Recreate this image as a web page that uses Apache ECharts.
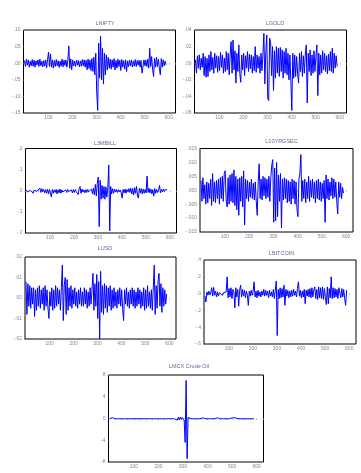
<!DOCTYPE html>
<html><head><meta charset="utf-8">
<script src="https://cdn.jsdelivr.net/npm/echarts@6/dist/echarts.min.js"></script>
<style>html,body{margin:0;padding:0;background:#fff}#c{width:361px;height:473px}</style>
</head><body><div id="c"></div>
<script>
// observations sampled every 4th obs, starting at obs 1
const OBS_STEP = 4;
const xTickLabels = [100, 200, 300, 400, 500, 600];

const titles = ["LNIFTY", "LGOLD", "L3MBILL", "L10YRGSEC", "LUSD", "LBITCOIN", "LMCX Crude Oil"];

const lnifty = [
0.008,-0.010,0.012,-0.006,0.010,-0.012,0.006,-0.008,0.011,-0.009,
0.009,-0.012,0.007,-0.005,0.010,-0.010,0.012,-0.008,0.006,-0.011,
0.008,-0.009,0.010,-0.014,0.012,0.033,-0.010,0.028,-0.012,0.010,
-0.015,0.008,-0.010,0.011,-0.008,0.007,-0.013,0.006,-0.009,0.012,
-0.011,0.009,-0.007,0.010,-0.012,0.008,0.052,-0.015,0.013,-0.020,
0.010,-0.008,0.006,-0.010,0.009,-0.006,0.008,-0.011,0.007,-0.009,
0.011,-0.008,0.010,-0.012,0.009,-0.020,0.012,-0.016,0.010,-0.022,
0.014,-0.025,0.018,-0.035,0.030,-0.088,-0.142,0.060,-0.045,0.081,
-0.050,0.045,-0.063,0.030,-0.035,0.025,-0.020,0.018,-0.015,0.012,
-0.018,0.010,-0.012,0.014,-0.020,0.008,-0.015,0.012,-0.010,0.009,
-0.022,0.011,-0.012,0.008,-0.018,0.010,-0.025,0.007,-0.010,0.009,
-0.008,0.010,-0.012,0.007,-0.009,0.011,-0.010,0.008,-0.006,0.009,
-0.012,0.008,-0.030,-0.028,0.010,-0.008,0.009,-0.010,0.012,-0.015,
0.045,-0.010,0.020,-0.018,-0.040,0.015,-0.012,0.018,-0.010,0.012,
-0.015,-0.035,0.014,-0.012,0.010,-0.008,0.006,-0.005];

const lgold = [
0.004,-0.012,0.009,-0.006,0.010,-0.008,0.006,-0.005,0.012,-0.015,
0.008,-0.017,0.006,-0.016,0.010,-0.010,0.014,-0.008,0.007,-0.012,
0.012,-0.006,0.009,-0.011,0.008,-0.009,0.013,-0.005,0.010,-0.012,
0.006,-0.010,0.014,-0.008,0.012,-0.014,0.010,0.026,-0.012,0.028,
-0.008,0.015,-0.024,0.012,-0.010,0.022,-0.012,-0.023,0.010,-0.008,
0.012,-0.015,0.009,-0.006,0.014,-0.010,0.011,-0.007,0.010,-0.012,
0.008,-0.009,0.020,-0.011,0.010,-0.006,0.008,-0.012,0.012,-0.009,
0.010,0.036,-0.025,0.014,0.034,-0.042,-0.045,0.030,0.025,-0.015,
0.020,-0.033,0.015,-0.018,0.020,-0.012,0.018,-0.016,0.019,-0.010,
0.016,-0.018,0.014,-0.012,0.018,-0.014,0.012,-0.020,0.010,-0.022,
-0.057,0.012,-0.018,0.010,-0.016,0.008,-0.012,-0.024,0.012,-0.010,
0.014,-0.016,0.009,-0.012,0.010,0.022,-0.048,0.012,-0.010,0.016,
-0.015,0.010,-0.012,0.015,-0.010,0.008,0.022,-0.039,0.012,-0.014,
0.010,-0.012,0.015,-0.008,0.012,-0.010,0.009,-0.013,0.011,-0.009,
0.014,-0.010,0.018,-0.012,0.012,-0.006,0.009,-0.004];

const l3mbill = [
0.004,-0.006,0.003,-0.005,0.002,-0.004,0.006,-0.012,0.003,-0.005,
0.004,-0.003,0.005,-0.006,0.012,-0.008,0.010,-0.005,0.006,-0.010,
0.005,-0.012,0.008,-0.015,0.006,-0.010,-0.030,0.006,-0.012,0.004,
-0.008,0.006,-0.015,0.005,-0.010,0.008,-0.012,0.004,-0.006,0.003,
-0.005,0.004,-0.008,0.006,-0.004,0.003,-0.006,0.004,-0.010,0.005,
-0.008,0.006,-0.004,0.005,-0.018,0.010,0.020,-0.012,0.008,-0.006,
0.004,-0.010,0.005,-0.008,0.006,-0.005,0.004,-0.012,0.008,-0.015,
0.012,-0.020,0.030,-0.025,0.035,0.065,-0.170,0.050,-0.040,0.025,
-0.035,0.020,-0.040,0.018,-0.030,0.015,0.122,-0.190,0.020,-0.015,
0.010,-0.012,0.008,-0.006,0.006,-0.008,0.005,-0.006,0.004,-0.010,
-0.035,0.006,-0.010,0.008,-0.012,0.006,-0.005,0.010,-0.008,0.012,
-0.015,0.010,-0.020,0.015,-0.012,0.020,-0.025,-0.035,0.012,-0.010,
0.010,-0.015,0.008,-0.012,0.006,-0.010,0.070,-0.008,0.012,-0.010,
0.008,-0.015,0.005,-0.025,0.010,-0.012,0.006,-0.008,0.005,0.025,
-0.010,0.006,-0.005,0.008,-0.004,0.006,0.003,0.004];

const l10yrgsec = [
0.0035,-0.004,0.0045,-0.003,0.002,-0.005,0.003,-0.0045,0.0025,-0.003,
0.004,-0.0055,0.006,-0.004,0.003,-0.0045,0.0035,-0.003,0.004,-0.005,
0.0045,-0.003,0.005,-0.004,0.006,0.007,-0.0035,-0.006,0.0045,-0.005,
0.0055,-0.004,0.006,-0.0045,0.0073,-0.0055,0.005,-0.007,0.004,-0.009,
0.0045,-0.004,0.005,-0.006,0.007,-0.0125,0.004,-0.003,0.0035,-0.004,
0.003,-0.0025,0.004,-0.003,0.0025,-0.0035,0.003,-0.004,-0.009,0.003,
0.0095,-0.003,0.004,-0.0035,0.005,-0.002,0.0045,-0.003,0.004,-0.0025,
0.005,-0.004,0.0045,0.009,0.011,-0.0115,0.008,-0.011,0.010,-0.0095,
0.0055,-0.004,0.006,-0.0135,0.004,-0.0035,0.0045,-0.003,0.004,-0.0045,
0.0035,-0.004,0.003,-0.005,0.004,-0.003,0.0035,-0.005,0.003,-0.007,
-0.0095,0.004,0.006,0.0128,-0.004,0.0035,-0.003,0.004,-0.0045,0.003,
-0.003,0.005,-0.004,0.0035,-0.0025,0.004,-0.003,0.003,-0.0045,0.0035,
-0.003,0.004,-0.0035,0.003,-0.004,0.0025,-0.003,0.0035,-0.0115,0.0055,
-0.003,0.004,-0.0035,0.003,-0.002,0.0045,-0.003,0.004,-0.0025,0.003,
-0.004,-0.0085,0.003,-0.0025,0.0025,-0.003,0.001,-0.001];

const lusd = [
0.008,-0.008,0.007,-0.004,0.006,-0.005,0.005,-0.003,0.005,-0.009,
0.004,-0.006,0.005,-0.004,0.006,-0.005,0.004,-0.003,0.005,-0.006,
0.006,-0.004,0.004,-0.005,-0.010,0.003,-0.004,0.005,-0.006,0.004,
-0.005,0.006,-0.004,0.005,-0.003,0.004,-0.006,0.005,0.016,-0.011,
0.006,0.010,-0.008,0.009,-0.006,0.005,-0.004,0.006,-0.005,0.004,
-0.003,0.005,-0.004,0.003,-0.005,0.004,-0.003,0.005,-0.004,0.003,
-0.004,0.005,-0.003,0.004,-0.005,0.003,-0.004,0.005,-0.003,0.004,
0.012,-0.006,0.007,-0.004,0.0115,-0.010,0.008,-0.020,0.013,-0.007,
0.006,-0.008,0.007,-0.005,0.006,-0.007,0.005,-0.004,0.006,-0.006,
0.004,-0.005,0.005,-0.004,0.003,-0.005,0.004,-0.003,0.005,-0.004,
0.004,-0.005,-0.011,0.004,-0.003,0.005,-0.004,0.003,-0.005,0.004,
-0.003,0.005,-0.004,0.004,-0.005,0.003,-0.004,0.005,-0.003,0.004,
-0.005,0.003,-0.004,0.005,-0.006,0.004,-0.005,0.006,-0.004,0.003,
-0.005,0.004,-0.006,0.005,0.016,-0.008,0.006,-0.005,0.008,0.012,
-0.004,0.007,-0.007,0.005,-0.004,0.004,-0.003,0.002];

const lbitcoin = [
-0.030,-0.100,0.020,-0.020,0.030,-0.015,0.010,0.070,-0.030,0.075,
-0.020,0.030,-0.040,0.020,-0.030,0.010,-0.010,0.015,-0.020,0.010,
-0.005,0.010,0.020,0.200,-0.050,0.060,-0.040,0.070,-0.060,0.050,
0.020,-0.170,0.070,-0.040,0.050,-0.150,0.040,0.100,-0.040,0.050,
-0.030,0.040,-0.050,0.030,-0.020,-0.140,0.030,-0.030,0.040,-0.020,
0.030,0.140,-0.040,0.030,-0.050,0.040,-0.030,0.020,-0.040,0.030,
-0.020,0.050,-0.030,0.040,-0.020,0.030,-0.050,0.040,-0.030,0.020,
-0.040,0.050,-0.060,0.040,0.150,-0.500,0.050,-0.060,0.070,-0.050,
0.060,-0.040,0.100,-0.140,0.050,-0.030,0.040,-0.050,0.030,-0.040,
0.040,-0.030,0.050,-0.020,0.030,-0.040,0.060,0.140,-0.030,0.040,
-0.050,0.030,-0.040,0.050,-0.120,0.040,-0.030,0.050,-0.040,0.060,
-0.050,0.070,-0.040,0.050,0.080,-0.060,0.050,-0.070,0.080,-0.050,
0.070,-0.060,0.080,-0.070,0.060,-0.050,-0.130,0.080,-0.120,0.060,
-0.050,0.200,-0.060,0.070,-0.050,0.060,-0.040,0.050,-0.060,0.070,
0.070,-0.050,0.060,-0.040,0.050,-0.060,-0.140,0.040];

const lmcxCrude = [
-0.05,-0.04,-0.06,0.15,-0.05,-0.04,-0.05,-0.06,-0.04,-0.05,
0.15,-0.05,-0.06,-0.04,-0.05,-0.05,-0.06,-0.04,-0.05,-0.05,
0.12,-0.05,-0.04,-0.06,-0.05,0.14,-0.05,-0.04,0.12,-0.05,
-0.06,-0.05,0.13,-0.04,-0.05,-0.06,-0.05,0.15,-0.05,-0.04,
-0.05,-0.06,-0.05,-0.04,-0.06,-0.05,-0.05,0.14,-0.05,-0.06,
-0.05,-0.04,-0.05,-0.06,-0.05,-0.05,-0.04,-0.06,0.12,-0.05,
-0.05,-0.06,-0.04,-0.05,-0.05,-0.06,-0.05,-0.04,-0.05,-0.30,
0.20,-0.25,0.25,-0.20,0.20,0.25,-0.30,-4.40,7.00,-7.40,
0.20,-0.10,-0.05,-0.05,0.12,-0.05,-0.06,-0.04,0.14,-0.05,
-0.05,0.13,-0.06,-0.05,-0.04,0.12,-0.05,-0.05,-0.06,-0.05,
-0.04,-0.05,-0.06,-0.05,-0.05,-0.04,-0.06,-0.05,-0.05,-0.04,
0.12,-0.05,-0.06,-0.05,0.13,-0.04,-0.05,0.14,-0.06,-0.05,
0.12,-0.05,-0.05,-0.04,-0.06,0.13,-0.05,-0.05,0.12,-0.05,
-0.06,-0.04,-0.05,-0.05,-0.06,-0.05,-0.04,-0.05,-0.06,-0.05,
-0.05,0.14,-0.05,-0.06,0.12,-0.05,-0.05,-0.04];

// y tick labels per panel
const yTicksLnifty = [0.10, 0.05, 0.00, -0.05, -0.10, -0.15];
const yTicksLgold = [0.04, 0.02, 0.00, -0.02, -0.04, -0.06];
const yTicks3mbill = [0.2, 0.1, 0.0, -0.1, -0.2];
const yTicks10yr = [0.015, 0.010, 0.005, 0.000, -0.005, -0.010, -0.015];
const yTicksLusd = [0.02, 0.01, 0.00, -0.01, -0.02];
const yTicksBitcoin = [0.4, 0.2, 0.0, -0.2, -0.4, -0.6];
const yTicksCrude = [8, 4, 0, -4, -8];

const seriesList = [lnifty, lgold, l3mbill, l10yrgsec, lusd, lbitcoin, lmcxCrude];
const yTickList = [yTicksLnifty, yTicksLgold, yTicks3mbill, yTicks10yr, yTicksLusd, yTicksBitcoin, yTicksCrude];
const yDecimals = [2, 2, 1, 3, 2, 1, 0];

// layout (pixels)
const boxes = [
  {l: 23.5, t: 30, w: 152, h: 83, tx: 100, ty: 19},
  {l: 194.5, t: 30, w: 152, h: 83, tx: 270, ty: 19},
  {l: 25.5, t: 148.5, w: 151, h: 84.5, tx: 100, ty: 139},
  {l: 200, t: 148.5, w: 153, h: 83.5, tx: 276.5, ty: 136.5},
  {l: 25, t: 257, w: 151, h: 82, tx: 100, ty: 243.5},
  {l: 204, t: 260, w: 152, h: 84, tx: 276.5, ty: 249},
  {l: 108.5, t: 375, w: 155, h: 87, tx: 184, ty: 362}
];

const labelColor = '#80879a';
const titleColor = '#5d6c8e';
const FONT = 'Liberation Sans, Arial, sans-serif';

function fmt(v, d) {
  let s = v.toFixed(d);
  if (d > 0) s = s.replace(/^(-?)0\./, '$1.');
  if (/^-\.?0*$/.test(s.replace('.', '')) ) s = s.replace('-', '');
  return s;
}

const grids = [], xAxes = [], yAxes = [], series = [], titleArr = [];
const xTicks = [];
for (let v = 25; v <= 625; v += 25) xTicks.push(v);

seriesList.forEach((ys, k) => {
  const b = boxes[k];
  const tk = yTickList[k];
  const ymax = Math.max(...tk), ymin = Math.min(...tk);
  grids.push({left: b.l, top: b.t, width: b.w, height: b.h, show: true,
    borderColor: '#000', borderWidth: 1, backgroundColor: '#fff', containLabel: false});
  xAxes.push({type: 'value', gridIndex: k, min: -3, max: 628,
    axisLine: {show: false}, splitLine: {show: false},
    axisTick: {show: true, customValues: xTicks, length: 1.5, lineStyle: {color: '#999', width: 0.7}},
    axisLabel: {customValues: xTickLabels, fontSize: 5, color: labelColor, fontFamily: FONT, margin: 2.5}});
  yAxes.push({type: 'value', gridIndex: k, min: ymin, max: ymax,
    axisLine: {show: false}, splitLine: {show: false},
    axisTick: {show: true, customValues: tk, length: 1.5, lineStyle: {color: '#666', width: 0.7}},
    axisLabel: {customValues: tk, fontSize: 5, color: labelColor, fontFamily: FONT, margin: 3,
      formatter: (v) => fmt(v, yDecimals[k])}});
  series.push({type: 'line', xAxisIndex: k, yAxisIndex: k, showSymbol: false, silent: true,
    lineStyle: {color: '#0000ff', width: 1}, animation: false, clip: true,
    data: ys.map((v, i) => [1 + i * OBS_STEP, v])});
  titleArr.push({text: titles[k], left: b.tx, top: b.ty - 3.5, textAlign: 'center',
    textStyle: {fontSize: 5.5, color: titleColor, fontWeight: 'normal', fontFamily: FONT}});
});

const chart = echarts.init(document.getElementById('c'), null, {renderer: 'canvas'});
chart.setOption({animation: false, backgroundColor: '#fff', title: titleArr,
  grid: grids, xAxis: xAxes, yAxis: yAxes, series: series});
</script></body></html>
